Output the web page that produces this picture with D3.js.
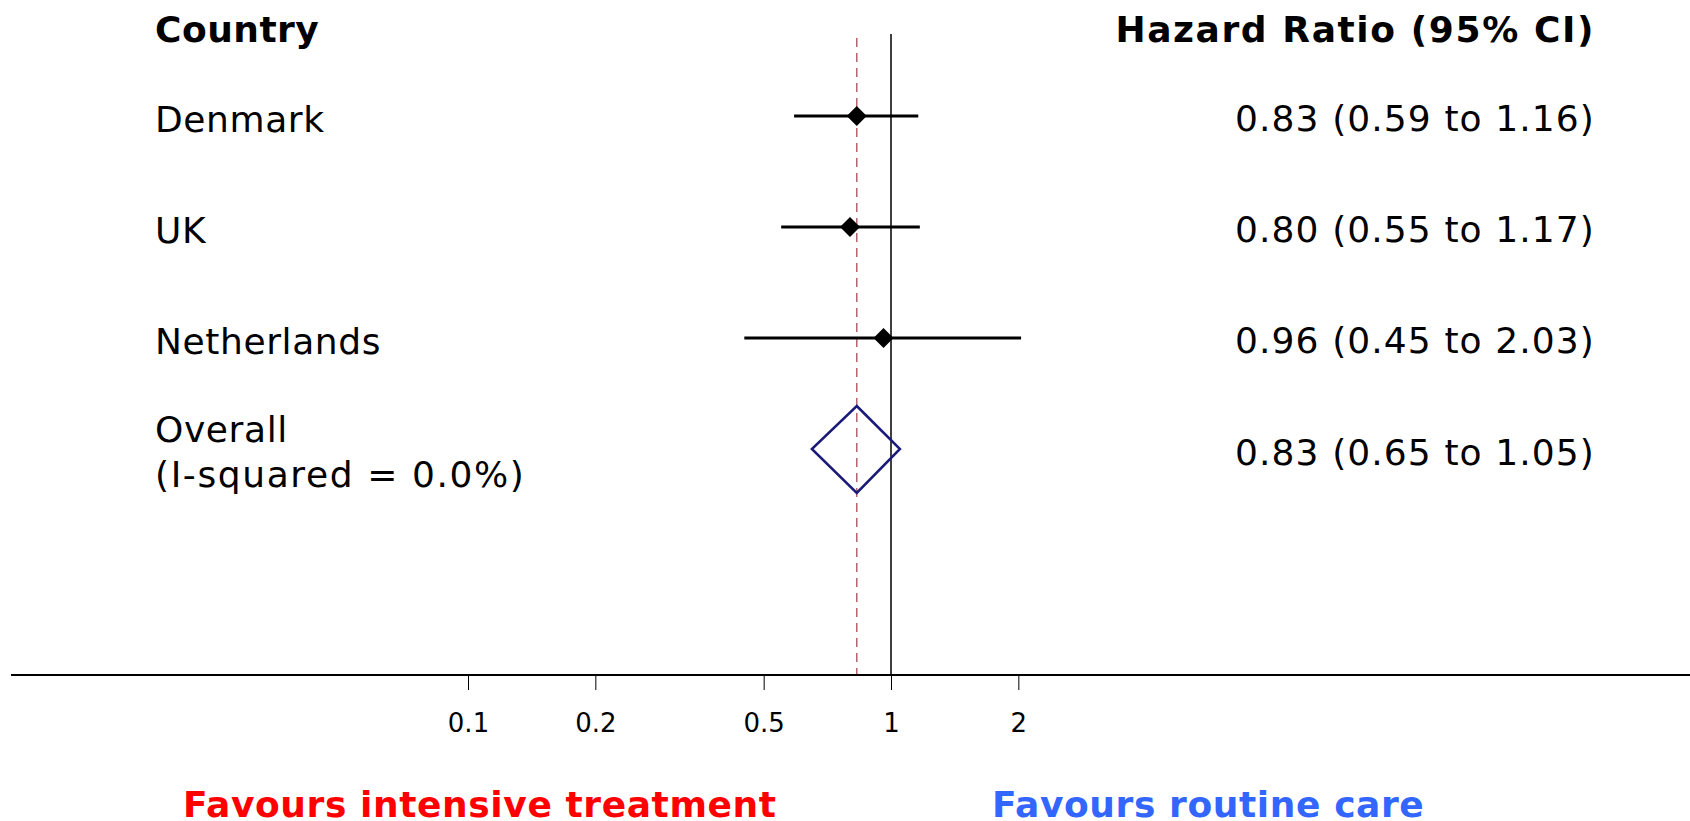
<!DOCTYPE html>
<html>
<head>
<meta charset="utf-8">
<script src="https://cdn.jsdelivr.net/npm/d3@7"></script>
<style>
  html, body { margin: 0; padding: 0; background: #fff; }
  svg { display: block; font-family: "DejaVu Sans", Verdana, sans-serif; }
</style>
</head>
<body>
<svg id="chart" width="1690" height="821"></svg>
<script>
// ---- data ----
const countries = ["Denmark", "UK", "Netherlands"];
const hr        = [0.83, 0.80, 0.96];
const ciLow     = [0.59, 0.55, 0.45];
const ciHigh    = [1.16, 1.17, 2.03];
const hrLabels  = ["0.83 (0.59 to 1.16)", "0.80 (0.55 to 1.17)", "0.96 (0.45 to 2.03)"];

const overallLabel = ["Overall", "(I-squared = 0.0%)"];
const overallHR    = 0.83;
const overallLow   = 0.65;
const overallHigh  = 1.05;
const overallText  = "0.83 (0.65 to 1.05)";

const tickValues = [0.1, 0.2, 0.5, 1, 2];
const tickLabels = ["0.1", "0.2", "0.5", "1", "2"];

const headerLeft  = "Country";
const headerRight = "Hazard Ratio (95% CI)";
const favLeft  = "Favours intensive treatment";
const favRight = "Favours routine care";

// ---- layout ----
const svg = d3.select("#chart");
const W = 1690;
const axisY = 675;
const labelX = 155, valueX = 1595;

const x = d3.scaleLog().domain([0.1, 1]).range([468, 891]);
const rows = countries.concat(["Overall"]);
const y = d3.scalePoint().domain(rows).range([116, 449]);

// headers
svg.append("text").attr("x", labelX).attr("y", 29).attr("dy", "0.35em")
  .attr("font-size", 36).attr("font-weight", "bold").attr("letter-spacing", 0.5).text(headerLeft);
svg.append("text").attr("x", valueX).attr("y", 29).attr("dy", "0.35em")
  .attr("text-anchor", "end").attr("font-size", 36).attr("font-weight", "bold")
  .attr("letter-spacing", 1.6).text(headerRight);

// reference lines
svg.append("line").attr("x1", x(1)).attr("x2", x(1)).attr("y1", 34).attr("y2", axisY)
  .attr("stroke", "#000").attr("stroke-width", 1.5);
svg.append("line").attr("x1", x(overallHR)).attr("x2", x(overallHR)).attr("y1", 38).attr("y2", axisY)
  .attr("stroke", "#b5646e").attr("stroke-width", 1.5).attr("stroke-dasharray", "9,6");

// axis
const axis = d3.axisBottom(x).tickValues(tickValues)
  .tickFormat((d, i) => tickLabels[i]).tickSize(15).tickSizeOuter(0).tickPadding(24);
const gAxis = svg.append("g").attr("transform", `translate(0,${axisY})`).call(axis);
gAxis.select(".domain").remove();
gAxis.selectAll(".tick line").attr("stroke", "#000").attr("stroke-width", 1);
gAxis.selectAll(".tick text").attr("font-size", 26).attr("fill", "#000")
  .attr("font-family", "DejaVu Sans, Verdana, sans-serif");
svg.append("line").attr("x1", 11).attr("x2", W).attr("y1", axisY).attr("y2", axisY)
  .attr("stroke", "#000").attr("stroke-width", 2);

// study rows
const study = countries.map((c, i) => ({c, hr: hr[i], lo: ciLow[i], hi: ciHigh[i], lab: hrLabels[i]}));
const g = svg.append("g");
g.selectAll("line.ci").data(study).join("line").attr("class", "ci")
  .attr("x1", d => x(d.lo)).attr("x2", d => x(d.hi))
  .attr("y1", d => y(d.c)).attr("y2", d => y(d.c))
  .attr("stroke", "#000").attr("stroke-width", 3);
g.selectAll("path.pt").data(study).join("path").attr("class", "pt")
  .attr("d", d => {
    const cx = x(d.hr), cy = y(d.c), r = 10;
    return `M${cx},${cy - r}L${cx + r},${cy}L${cx},${cy + r}L${cx - r},${cy}Z`;
  }).attr("fill", "#000");
g.selectAll("text.name").data(study).join("text").attr("class", "name")
  .attr("x", labelX).attr("y", d => y(d.c) + 3).attr("dy", "0.35em")
  .attr("font-size", 36).attr("letter-spacing", 0.6).text(d => d.c);
g.selectAll("text.val").data(study).join("text").attr("class", "val")
  .attr("x", valueX).attr("y", d => y(d.c) + 2).attr("dy", "0.35em")
  .attr("text-anchor", "end").attr("font-size", 36).attr("letter-spacing", 1.1).text(d => d.lab);

// overall
const oy = y("Overall");
svg.append("path")
  .attr("d", `M${x(overallHR)},${oy - 43}L${x(overallHigh)},${oy}L${x(overallHR)},${oy + 44}L${x(overallLow)},${oy}Z`)
  .attr("fill", "none").attr("stroke", "#1a1a78").attr("stroke-width", 2.5);
svg.append("text").attr("x", labelX).attr("y", oy - 20).attr("dy", "0.35em")
  .attr("font-size", 36).attr("letter-spacing", 0.6).text(overallLabel[0]);
svg.append("text").attr("x", labelX).attr("y", oy + 25).attr("dy", "0.35em")
  .attr("font-size", 36).attr("letter-spacing", 1.6).text(overallLabel[1]);
svg.append("text").attr("x", valueX).attr("y", oy + 3).attr("dy", "0.35em")
  .attr("text-anchor", "end").attr("font-size", 36).attr("letter-spacing", 1.1).text(overallText);

// favours labels
svg.append("text").attr("x", 183).attr("y", 804).attr("dy", "0.35em")
  .attr("font-size", 36).attr("font-weight", "bold").attr("letter-spacing", 0.6)
  .attr("fill", "#ff0000").text(favLeft);
svg.append("text").attr("x", 992).attr("y", 804).attr("dy", "0.35em")
  .attr("font-size", 36).attr("font-weight", "bold").attr("letter-spacing", 0.6)
  .attr("fill", "#3366ff").text(favRight);
</script>
</body>
</html>
